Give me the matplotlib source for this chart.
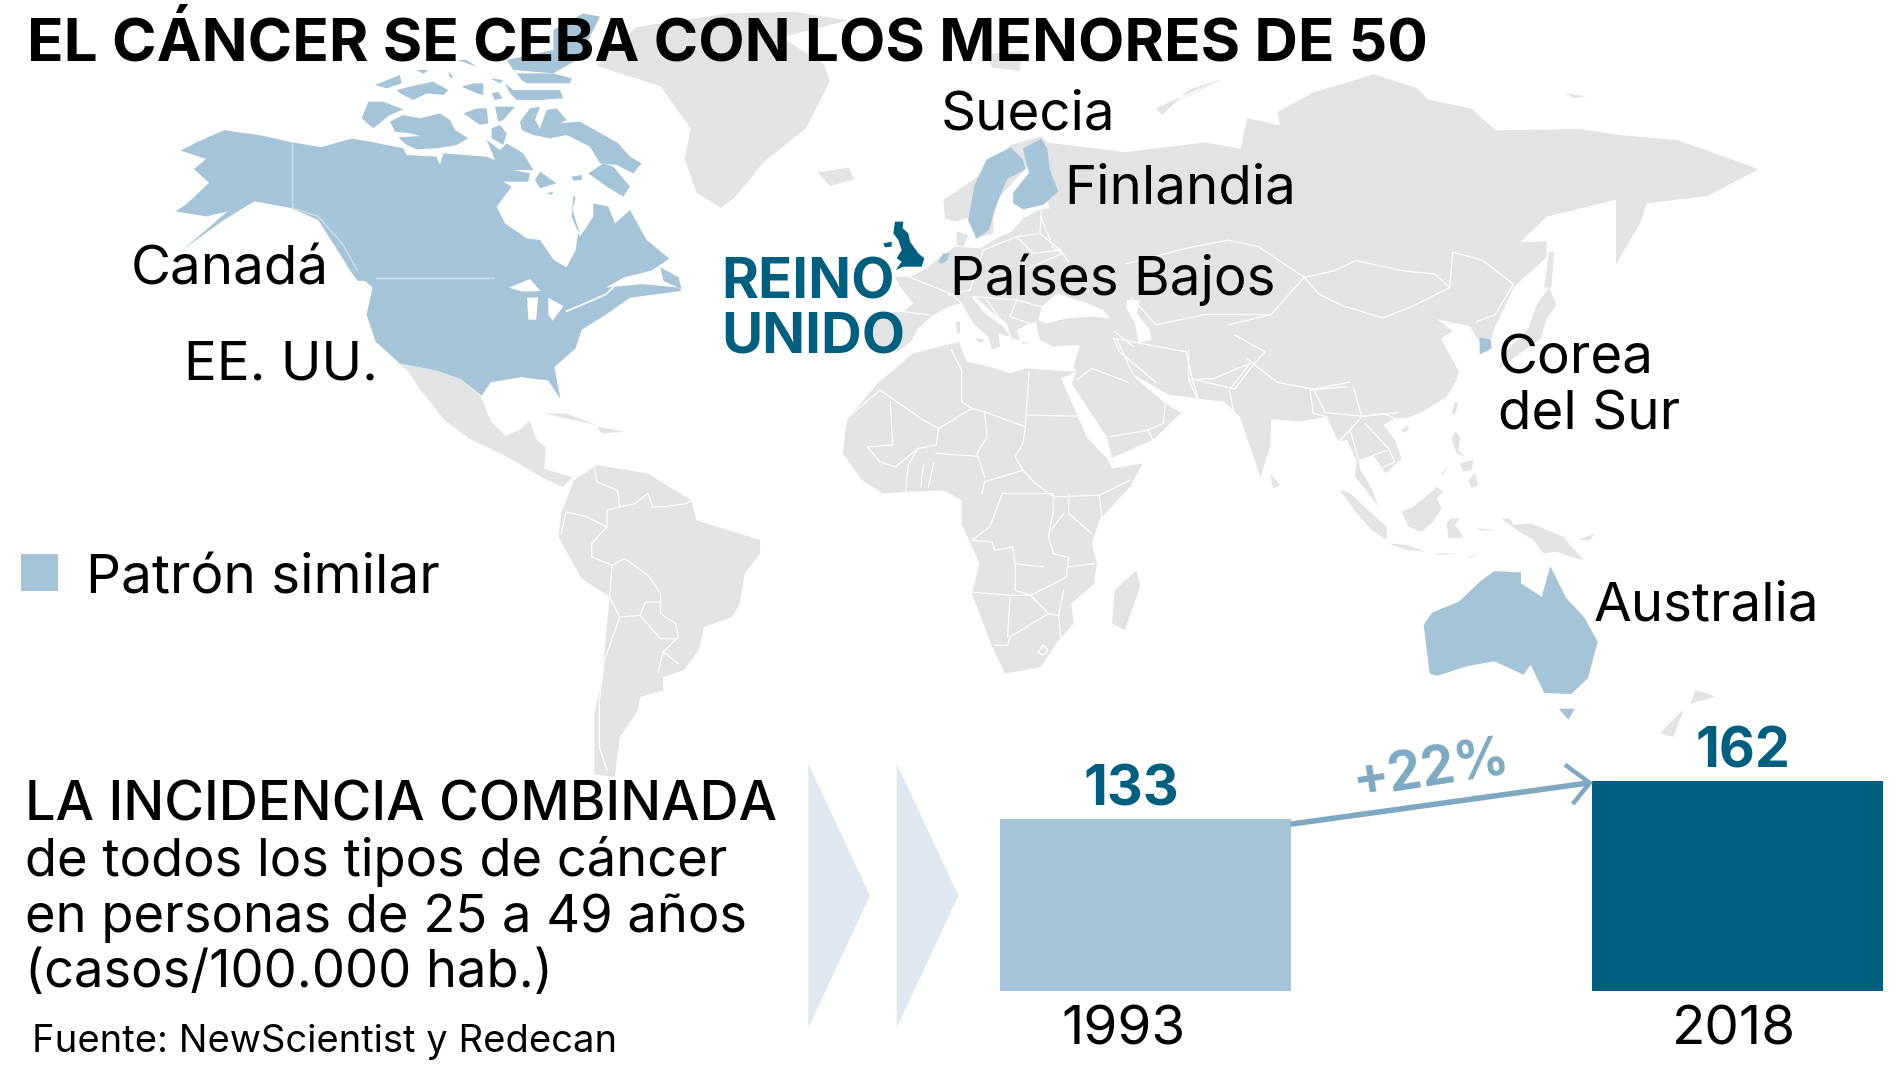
import matplotlib
matplotlib.use("Agg")
import matplotlib.pyplot as plt
from matplotlib.patches import Polygon

plt.rcParams['font.family'] = ['Inter', 'DejaVu Sans']

# ---------- colours
GREY = '#e1e3e5'
BLUE = '#a6c4d8'
DARK = '#005f7f'
ARROW = '#7fa9c1'
CHEV = '#dfe8f1'

# ---------- bar data
years = ['1993', '2018']
incidence = [133, 162]
change_label = '+22%'

# ---------- text
title = 'EL CÁNCER SE CEBA CON LOS MENORES DE 50'
countries = ['Suecia', 'Finlandia', 'Países Bajos', 'Canadá', 'EE. UU.', 'Corea', 'del Sur', 'Australia']
highlight = ['REINO', 'UNIDO']
legend_label = 'Patrón similar'
sub_head = 'LA INCIDENCIA COMBINADA'
sub_lines = ['de todos los tipos de cáncer', 'en personas de 25 a 49 años', '(casos/100.000 hab.)']
source = 'Fuente: NewScientist y Redecan'

# ---------- map outlines (reading frames of the basemap)
def c1(p): return [(x / 2.01, y / 3.6) for x, y in p]
def c2(p): return [(780 + x / 2.01, y / 3.6) for x, y in p]
def c3(p): return [(410.5 + x / 2.387, 271 + y / 3.65) for x, y in p]
def fr(x0, y0, p): return [((x0 + x / 3) / 1.2178, (y0 + y / 3) / 1.2178) for x, y in p]
def ce(p): return fr(860, 190, p)
def ca(p): return fr(340, 50, p)
def cs(p): return fr(1300, 380, p)

north_america = (
    c1([(298,445),(325,420),(370,385),(430,400),(480,420),(530,435),(580,410)])
    + ca([(90,275),(190,295),(200,315),(290,320),(300,345),(310,310),(440,320),(465,330),(440,270),(480,300),(500,280),(550,310),
          (580,360),(520,360),(570,370),(565,395),(490,395),(515,410),(470,470),(495,520),(560,565),(600,570)])
    + c1([(915,770),(935,790),(950,740),(955,680),(945,620),(950,585)])
    + ca([(700,435),(695,500),(720,560),(760,500),(760,460),(805,470),(825,520),(870,480),(920,570)])
    + c1([(1105,765),(1075,800),(1030,820),(1000,850),(1060,840),(1120,850),(1125,860),(1040,880),(1000,930),(960,975),
          (950,1030),(915,1085),(925,1180),(905,1125),(860,1115),(810,1130),(795,1170),(760,1120),(720,1095),(660,1075),(620,1010),
          (605,930),(615,850),(575,790),(525,650),(480,615),(420,595),(370,650),(300,740),(340,680),(375,625),(340,640),(290,625),
          (310,600),(345,540),(320,500),(340,470)]))
arctic = [ca(p) for p in [
    [(65,205),(85,155),(130,155),(190,178),(150,195),(100,235)],
    [(150,215),(190,195),(240,205),(300,190),(330,210),(345,240),(385,265),(350,285),(290,295),(230,298),(200,285),(175,262),(240,258),(210,250),(165,245)],
    [(105,105),(180,75),(185,100),(140,115)],
    [(170,120),(230,105),(280,95),(325,120),(310,135),(260,130),(220,150),(180,130)],
    [(230,60),(265,60),(250,72)], [(325,65),(340,80),(330,85)],
    [(365,110),(400,100),(430,100),(430,135),(410,130)],
    [(370,190),(410,175),(440,175),(445,220),(420,225)],
    [(450,85),(490,90),(480,100)], [(455,130),(475,125),(488,145),(465,150)],
    [(495,100),(520,120),(660,120),(670,145),(600,150),(530,150),(510,130)],
    [(530,70),(580,70),(640,70),(695,85),(690,100),(560,100),(545,90)],
    [(350,30),(410,50),(380,30)],
    [(500,30),(640,0),(640,-60),(730,-110),(780,-100),(730,0),(710,30),(640,70),(520,60)],
    [(465,170),(525,170),(490,210),(475,215)],
    [(455,235),(480,225),(500,250),(490,285),(455,265)],
    [(540,215),(570,175),(600,170),(585,210),(600,235),(620,180),(650,175),(680,210),(660,220),(720,215),(800,260),(835,280),(870,320),(905,340),(880,370),(830,345),(780,340),(750,290),(680,255),(630,265),(580,255),(545,240)],
    [(745,370),(790,340),(820,350),(870,410),(850,440),(800,410)],
    [(695,380),(725,375),(725,390),(700,392)],
    [(585,390),(600,365),(650,400),(600,415)], [(620,430),(640,425),(635,435)]]] + [c1(p) for p in [
    [(1090,790),(1120,820),(1125,855),(1095,830)], [(570,780),(610,830),(590,830)]]]
great_lakes = [c1(p) for p in [
    [(840,850),(875,825),(892,860),(862,862)],
    [(870,880),(888,880),(885,945),(872,945)],
    [(905,880),(930,905),(912,948),(905,930)]]]
st_lawrence = c1([(935,920),(975,890),(1000,870),(1012,850)])
na_borders = [c1(p) for p in [[(620,822),(815,822)], [(483,420),(483,615),(525,640),(565,720),(590,800)]]]

greenland = c1([(985,195),(1090,255),(1140,380),(1130,470),(1150,570),(1190,615),(1215,580),(1260,480),(1330,380),(1370,240),
    (1360,190),(1290,110),(1400,60),(1310,35),(1200,40),(1050,80)])
iceland = c1([(1350,510),(1400,495),(1410,530),(1370,550)])
mexico = [(328,299),(358,304),(378,311),(395,326),(403,346),(415,358),(428,352),(435,345),(440,360),(448,367),(447,385),(470,392),
          (462,400),(445,392),(425,380),(410,372),(385,360),(365,345),(345,320),(335,305)]
cuba = c3([(85,250),(130,250),(190,285),(130,265)])
hispaniola = c3([(190,290),(245,305),(200,310)])
south_america = c3([(190,405),(290,430),(375,510),(385,570),(510,630),(510,670),(480,730),(470,820),(455,860),(400,890),(390,960),
    (360,1020),(320,1040),(320,1080),(275,1100),(270,1140),(235,1220),(225,1340),(185,1330),(185,1150),(200,1050),(215,800),
    (160,745),(115,620),(120,550),(145,450)])
africa = c3([(810,70),(900,35),(915,95),(960,110),(1000,130),(1030,115),(1130,125),(1100,145),(1150,320),(1190,385),(1200,415),
    (1260,400),(1235,470),(1175,570),(1160,640),(1170,700),(1165,760),(1120,820),(1125,880),(1095,930),(1060,1010),(990,1030),
    (965,950),(925,790),(940,700),(905,580),(905,510),(870,480),(800,485),(750,490),(710,450),(672,370),(680,270),(740,160)])
madagascar = c3([(1248,720),(1255,770),(1225,900),(1200,880),(1205,780)])
eurasia = (
    ce([(115,485),(155,452),(170,420),(215,378),(265,350),(305,340),(340,400),(385,440),(395,480),(420,470),(415,430),(450,440),(430,410),
        (375,370),(335,322),(345,320),(400,370),(440,400),(455,445),(480,450),(470,420),(510,400),(530,395),(530,410),(540,450),
        (580,470),(650,465),(660,470),(640,530)])
    + [(884,305),(880,315),(909,359),(913,376),(947,361),(970,339),(955,330),(950,325),(934,312),(930,307),(959,324),(1005,330),
       (1018,342),(1035,392),(1043,367),(1044,344)]
    + cs([(0,125),(80,110),(115,185),(140,180),(170,240),(165,290),(205,340),(235,380),(215,325),(180,265),(175,240),(220,225),
          (245,262),(258,280),(305,235),(285,180),(250,135),(285,115),(320,115),(370,95),(440,50),(470,0)])
    + [(1198,305),(1183,278),(1193,272),(1180,262),(1207,268),(1213,278),(1222,290),(1226,272),(1243,236),(1270,211),(1270,198),(1248,199),
       (1270,178),(1327,164),(1327,189),(1327,217),(1347,183),(1352,167),(1402,161),(1444,139),(1417,129),(1377,115),(1332,111),
       (1297,106),(1228,107),(1208,89),(1173,82),(1163,72),(1128,61),(1078,76),(1049,92),(1051,103),(1024,97),(1019,122),(989,117),
       (924,125),(860,117),(855,112),(830,119),(800,147)]
    + ce([(250,30),(255,85),(285,95),(335,80),(345,145),(400,130),(400,40)])
    + [(842,139),(855,120),(862,139),(869,157)]
    + ce([(590,0),(560,30),(570,55),(540,58),(490,85),(455,125),(420,140),(360,175),(285,170),(235,205),(200,235),(150,262),(105,260),
          (120,290),(160,340),(130,365),(45,369),(36,441),(60,480)]))
seas = [ce(p) for p in [
    [(545,350),(590,310),(650,330),(680,340),(730,360),(750,385),(690,380),(620,385),(560,400),(535,390)],
    [(800,330),(840,330),(830,370),(870,420),(875,450),(835,460),(825,400),(800,355)]]]
islands = [[(1272,207),(1276,207),(1274,236),(1268,236)],
    [(1272,236),(1278,250),(1270,262),(1265,278),(1243,294),(1230,303),(1235,290),(1255,270),(1262,250)],
    c3([(1510,430),(1530,465),(1515,475)]),
    c2([(340,320),(445,235),(395,265),(350,340)]),
    c2([(60,160),(120,150),(115,210),(70,200)]),
    c2([(1015,275),(1050,285),(1030,290)]),
    c2([(440,240),(450,235),(340,330)]),
    [(1392,567),(1401,569),(1408,572),(1388,578)],
    [(1383,582),(1366,599),(1363,602),(1374,605)]] + [cs(p) for p in [
    [(305,150),(325,135),(325,150),(310,158)],
    [(455,100),(465,65),(475,70),(465,105)],
    [(455,175),(465,155),(480,170),(475,210),(495,230),(470,220)],
    [(505,300),(525,280),(535,315),(515,325)],
    [(480,250),(520,240),(515,270),(490,275)],
    [(425,280),(445,255),(430,285)],
    [(305,395),(340,380),(390,340),(410,320),(430,335),(410,355),(425,385),(400,425),(365,455),(325,440)],
    [(440,430),(450,415),(480,415),(465,435),(490,470),(470,475),(445,475)],
    [(120,330),(150,340),(215,400),(260,440),(260,480),(215,450),(170,400)],
    [(265,490),(320,495),(375,515),(320,510)],
    [(400,520),(470,520),(420,525)],
    [(500,535),(540,515),(520,530)],
    [(605,415),(630,415),(640,435),(690,430),(730,445),(790,470),(815,500),(850,540),(810,530),(770,515),(730,520),(700,480),(650,450)],
    [(530,445),(590,450),(545,452)],
    [(835,480),(885,460),(870,480)]]] + [ce(p) for p in [
    [(290,125),(325,135),(310,170),(290,165)],
    [(288,395),(300,395),(300,430),(290,430)],
    [(345,445),(375,450),(360,460)],
    [(480,455),(510,458),(490,462)]]]
uk = ce([(105,95),(130,95),(128,115),(145,130),(150,155),(175,190),(193,205),(185,230),(130,230),(108,240),(125,215),(110,205),(125,180),(115,150),(100,130)])
ni = ce([(70,160),(95,155),(95,170),(75,172)])
sweden = [(830,121),(840,131),(842,139),(827,147),(820,164),(817,172),(812,189),(802,196),(795,181),(800,153),(810,131)]
finland = [(855,114),(860,122),(862,139),(869,157),(857,168),(840,172),(832,167),(832,158),(845,142),(840,122)]
netherlands = ce([(235,215),(250,190),(268,190),(262,210),(245,222)])
south_korea = [(1215,277),(1224,279),(1225,286),(1215,291)]
australia = [(1227,469),(1249,470),(1249,479),(1266,490),(1273,465),(1286,491),(1301,507),(1312,527),(1304,557),(1290,570),(1268,569),
             (1257,546),(1251,554),(1227,543),(1205,547),(1180,555),(1174,553),(1169,513),(1176,503),(1198,494),(1216,477)]
tasmania = [(1280,582),(1293,582),(1288,591)]

africa_borders = [c3(p) for p in [
    [(885,60),(905,120),(905,215),(925,235),(860,295),(830,270),(745,180),(680,265)],
    [(925,235),(950,245),(1030,290),(1037,125)], [(1037,255),(1130,258)],
    [(950,245),(955,320),(935,370),(950,440)], [(1030,290),(1025,340),(1010,380),(1025,420),(950,455),(945,490)],
    [(860,295),(855,345),(820,355),(775,410),(745,395),(720,350),(770,345),(765,215)], [(855,370),(935,378)],
    [(820,355),(800,405),(795,485)], [(830,405),(825,470)], [(850,400),(840,470)],
    [(1025,420),(1050,460),(1085,500),(1175,495),(1235,450)], [(985,490),(1085,490),(1085,540),(1075,620),(1085,670),(1110,680)],
    [(985,490),(960,590),(925,630),(965,635),(970,660),(1005,650),(1010,700),(1065,710)],
    [(1115,490),(1115,550),(1160,610)], [(1175,495),(1180,570)], [(1105,550),(1080,600)],
    [(920,785),(1000,795),(1040,795),(1075,850),(1000,920),(995,945),(970,945)], [(1000,800),(995,920)],
    [(1010,700),(1010,780),(1040,795),(1080,765),(1110,740),(1115,680)], [(1115,710),(1165,700)],
    [(1075,850),(1095,855),(1105,780)], [(1095,855),(1100,930)],
    [(1055,965),(1065,945),(1075,960),(1065,975),(1055,965)],
    [(1130,150),(1160,115),(1230,155)], [(1195,320),(1270,300),(1300,280),(1305,215)], [(1270,300),(1280,330)],
    [(1240,130),(1210,30)], [(1350,60),(1350,150),(1365,200)], [(1350,150),(1400,145),(1470,100),(1430,180),(1440,260)]]]
samerica_borders = [c3(p) for p in [
    [(185,410),(190,455),(230,480),(235,530),(265,520),(290,490),(300,530),(320,530),(365,520),(375,510)],
    [(235,530),(210,540),(210,590),(170,560),(130,545),(120,610)],
    [(210,590),(180,640),(180,680),(220,705),(245,685),(290,735),(315,790),(315,850),(345,880),(350,920),(320,965),(350,1000)],
    [(220,705),(215,800),(235,860),(275,855),(315,925),(345,925)], [(275,855),(285,815),(315,815)],
    [(235,860),(205,990),(195,1110),(195,1250),(210,1320)], [(320,965),(310,1025)]]]
asia_borders = [c2(p) for p in [
    [(585,820),(610,870),(650,905),(715,940),(770,900),(825,850),(800,810),(745,800),(670,770),(635,800),(585,820)],
    [(290,780),(400,730),(460,710),(510,730),(585,820),(530,930),(460,960)],
    [(150,640),(170,730),(185,750),(120,800)], [(825,850),(830,745),(880,770),(930,840),(900,930),(870,950)],
    [(300,880),(340,960),(420,930),(530,930)], [(390,1040),(400,1120),(470,1150),(500,1080),(520,1040),(470,990)],
    [(490,1060),(540,1130),(600,1150),(660,1130)], [(600,1150),(620,1220),(680,1230),(740,1220)],
    [(270,1000),(280,1040),(340,1130)], [(270,1000),(390,1040)], [(400,1120),(410,1180)]]] + [ce(p) for p in [
    [(265,315),(330,300),(370,180)], [(370,180),(470,140),(540,130),(545,60)], [(470,140),(520,190),(600,180),(625,215)],
    [(540,130),(600,180)], [(340,320),(470,330),(545,350)], [(470,330),(450,380),(510,400)], [(380,330),(430,400)],
    [(210,375),(130,365)], [(150,262),(270,310),(305,340)], [(765,425),(820,470)]]] + [cs(p) for p in [
    [(115,185),(150,150),(185,110),(160,20)], [(150,150),(175,235)], [(190,110),(250,100),(285,115)],
    [(195,130),(265,205),(285,245),(250,262)], [(220,225),(265,210)], [(80,110),(40,100),(30,30),(140,20)]]]

# ---------- figure
fig = plt.figure(figsize=(19, 10.69), dpi=100, facecolor='white')
map_ax = fig.add_axes([0, 0, 1, 1])
map_ax.set_xlim(0, 1560.2)
map_ax.set_ylim(877.8, 0)
map_ax.axis('off')

def fill(points, color, z=1, a=map_ax):
    a.add_patch(Polygon(points, closed=True, fc=color, ec='none', zorder=z))

for shape in [greenland, iceland, mexico, cuba, hispaniola, south_america, africa, madagascar, eurasia] + islands:
    fill(shape, GREY)
for shape in seas:
    fill(shape, 'white', 2)
for line in africa_borders + samerica_borders + asia_borders:
    xs, ys = zip(*line)
    map_ax.plot(xs, ys, color='white', lw=0.9, zorder=2)
for shape in [north_america, sweden, finland, netherlands, south_korea, australia, tasmania] + arctic:
    fill(shape, BLUE, 3)
for shape in great_lakes:
    fill(shape, 'white', 4)
xs, ys = zip(*st_lawrence)
map_ax.plot(xs, ys, color='white', lw=1.2, zorder=4)
for line in na_borders:
    xs, ys = zip(*line)
    map_ax.plot(xs, ys, color='#cfdfe9', lw=1.0, zorder=4)
fill(uk, DARK, 5)
fill(ni, DARK, 5)

# bars
bar_ax = fig.add_axes([825 / 1568, 1 - 818 / 882, (1554 - 825) / 1568, 182 / 882])
bar_ax.bar([0, 1], incidence, width=0.491, color=[BLUE, DARK])
bar_ax.set_xlim(-0.2455, 1.2455)
bar_ax.set_ylim(0, 170)
bar_ax.axis('off')

# annotation layer
ax = fig.add_axes([0, 0, 1, 1])
ax.set_xlim(0, 1568)
ax.set_ylim(882, 0)
ax.axis('off')
ax.patch.set_alpha(0)

for x0 in (667, 740):
    fill([(x0, 630), (x0 + 51, 739), (x0, 848)], CHEV, 1, ax)
fill([(17, 457), (48, 457), (48, 488), (17, 488)], BLUE, 3, ax)

def label(x, y, s, size, color='black', weight='normal', ha='left', **kw):
    ax.text(x, y, s, fontsize=size, color=color, fontweight=weight, ha=ha, va='baseline', zorder=10, **kw)

label(22, 50, title, 43.4, weight='bold')
country_pos = [(776, 107), (878, 168), (784, 243), (108, 235), (152, 313), (1236, 308), (1236, 354), (1315, 512)]
for (x, y), s in zip(country_pos, countries):
    label(x, y, s, 39.4)
label(595, 246, highlight[0], 40.5, color=DARK, weight='bold')
label(595, 292, highlight[1], 40.5, color=DARK, weight='bold')
label(71, 490, legend_label, 39.5)
label(21, 677, sub_head, 39, weight='medium')
for y, s in zip((723, 769, 814), sub_lines):
    label(21, y, s, 37.8)
label(26, 868, source, 27.5)

for x, y, v in zip((934, 1438), (665, 633), incidence):
    label(x, y, str(v), 40, color=DARK, weight='bold', ha='center')
for x, s in zip((927, 1431), years):
    label(x, 862, s, 39.5, ha='center')

ax.plot([1065, 1311], [680, 646], color=ARROW, lw=4, zorder=6, solid_capstyle='butt')
ax.plot([1293, 1312, 1299], [632, 646, 662], color=ARROW, lw=3.2, zorder=6, solid_joinstyle='miter')
ax.text(1181, 636, change_label, fontsize=38.5, color=ARROW, fontweight='bold', ha='center', va='center',
        rotation=9, rotation_mode='anchor', zorder=10)

fig.savefig('out.png', dpi=100, facecolor='white')
